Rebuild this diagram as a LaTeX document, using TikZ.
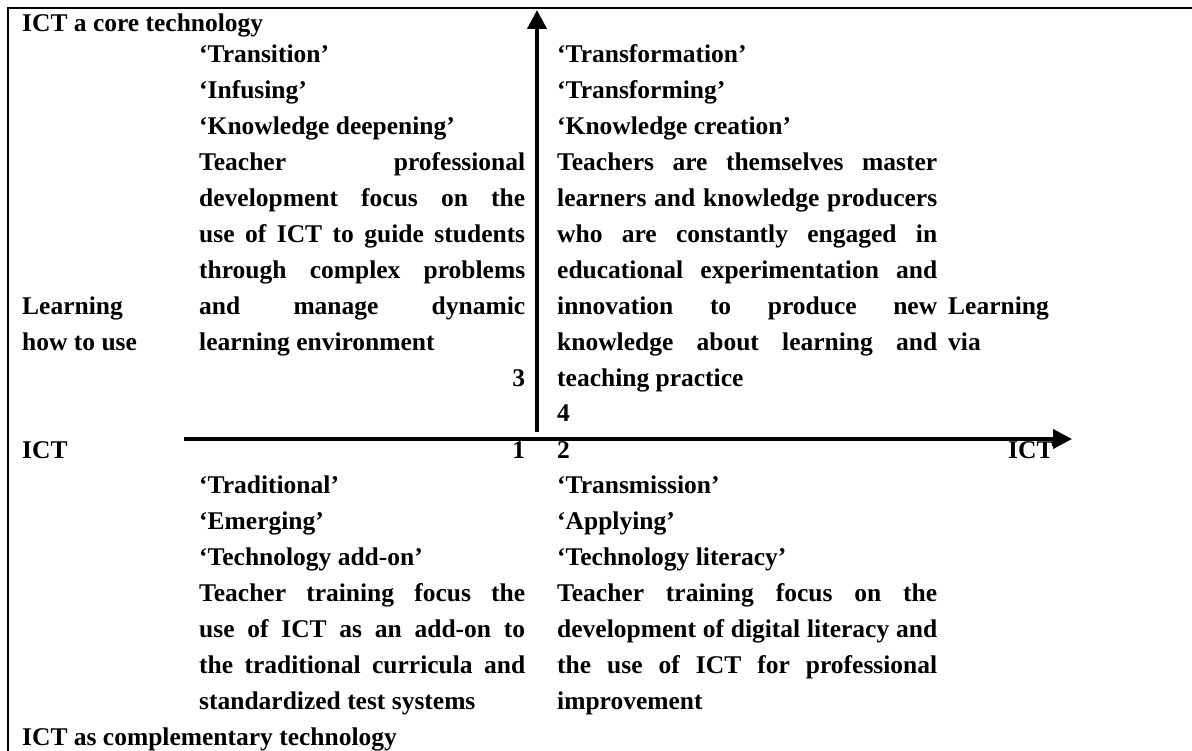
\documentclass[tikz,border=0pt]{standalone}
\usepackage{fontspec}
\setmainfont{Liberation Serif}
\usetikzlibrary{arrows.meta}
\begin{document}
\begin{tikzpicture}[x=1pt,y=-1pt,
  txt/.style={anchor=base west, inner sep=0pt, font=\fontsize{25.5}{35.9}\selectfont\bfseries},
  leftcell/.style={txt, text width=326pt, align=justify},
  rightcell/.style={txt, text width=380pt, align=justify},
  axisline/.style={line width=4pt, -{Triangle[length=19pt,width=19pt]}},
  frameline/.style={line width=2pt}]
\useasboundingbox (0,0) rectangle (1192,751);
% frame (top and left edges of the table)
\coordinate (fbl) at (8,751);
\coordinate (ftl) at (8,8);
\coordinate (ftr) at (1192,8);
\draw[frameline] (fbl) -- (ftl) -- (ftr);
% axes
\coordinate (vs) at (537,432);
\coordinate (ve) at (537,10);
\coordinate (hs) at (184,439);
\coordinate (he) at (1072,439);
\draw[axisline] (vs) -- (ve);
\draw[axisline] (hs) -- (he);
% side labels
\node[txt] (top) at (22,32) {ICT a core technology};
\node[txt] (l1) at (22,314.3) {Learning};
\node[txt] (l2) at (22,350.2) {how to use};
\node[txt] (l3) at (22,458) {ICT};
\node[txt] (bottom) at (22,745) {ICT as complementary technology};
\node[txt] (r1) at (948,314.3) {Learning};
\node[txt] (r2) at (948,350.2) {via};
\node[txt] (r3) at (1008,458) {ICT};
% quadrants
\node[leftcell] (tl) at (199,63) {‘Transition’\\ ‘Infusing’\\ ‘Knowledge deepening’\\ Teacher professional\linebreak development focus on the\linebreak use of ICT to guide students\linebreak through complex problems\linebreak and manage dynamic\linebreak learning environment\\ \mbox{}\hskip0pt plus1filll 3};
\node[rightcell] (tr) at (557,63) {‘Transformation’\\ ‘Transforming’\\ ‘Knowledge creation’\\ Teachers are themselves master\linebreak learners and knowledge producers\linebreak who are constantly engaged in\linebreak educational experimentation and\linebreak innovation to produce new\linebreak knowledge about learning and\linebreak teaching practice\\ 4};
\node[leftcell] (bl) at (199,458) {\mbox{}\hskip0pt plus1filll 1\\ ‘Traditional’\\ ‘Emerging’\\ ‘Technology add-on’\\ Teacher training focus the\linebreak use of ICT as an add-on to\linebreak the traditional curricula and\linebreak standardized test systems};
\node[rightcell] (br) at (557,458) {2\\ ‘Transmission’\\ ‘Applying’\\ ‘Technology literacy’\\ Teacher training focus on the\linebreak development of digital literacy and\linebreak the use of ICT for professional\linebreak improvement};
\end{tikzpicture}
\end{document}
